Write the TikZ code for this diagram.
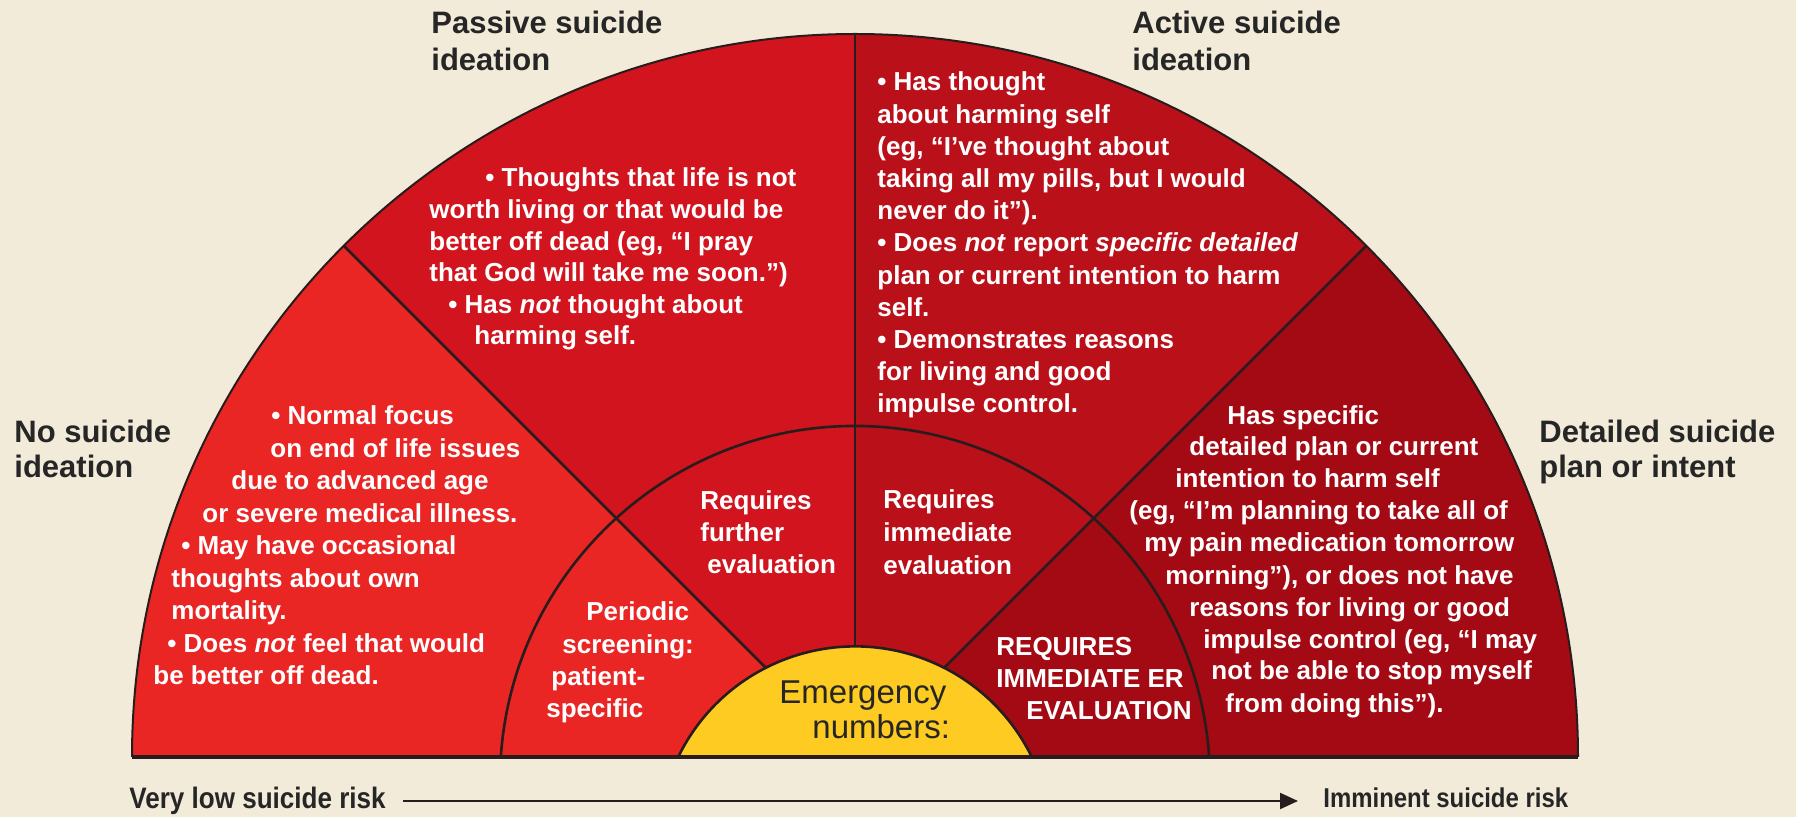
\documentclass[tikz,border=0pt]{standalone}
\usepackage{fontspec}
\setmainfont{Liberation Sans}
\newfontfamily\condfont{Liberation Sans}[FakeStretch=0.88]
\usetikzlibrary{arrows.meta}
\definecolor{bgc}{RGB}{242,235,218}
\definecolor{cA}{RGB}{234,38,37}
\definecolor{cB}{RGB}{209,20,30}
\definecolor{cC}{RGB}{186,16,26}
\definecolor{cD}{RGB}{164,10,20}
\definecolor{yel}{RGB}{253,203,33}
\definecolor{lnc}{RGB}{40,28,28}
\definecolor{headc}{RGB}{38,38,38}
\tikzset{
  ln/.style={draw=lnc, line width=1.3pt},
  lnthin/.style={draw=lnc, line width=1pt},
  baseln/.style={draw=lnc, line width=1.6pt},
  wtext/.style={text=white, font=\fontsize{13}{16}\selectfont\bfseries, anchor=base west, inner sep=0pt},
  htext/.style={text=headc, font=\fontsize{15.5}{18}\selectfont\bfseries, anchor=base west, inner sep=0pt},
  btext/.style={text=headc, anchor=base west, inner sep=0pt},
  etext/.style={text=headc, font=\fontsize{16.5}{19}\selectfont, anchor=base west, inner sep=0pt},
}
\begin{document}
\begin{tikzpicture}[x=0.5pt,y=0.5pt]
\fill[bgc] (0,0) rectangle (1796,-817);
\useasboundingbox (0,0) rectangle (1796,-817);
\coordinate (C) at (855,-757);
% sectors
\fill[cA] (C) -- ++(180:723) arc[start angle=180,end angle=135,radius=723] -- cycle;
\fill[cB] (C) -- ++(135:723) arc[start angle=135,end angle=90,radius=723] -- cycle;
\fill[cC] (C) -- ++(90:723) arc[start angle=90,end angle=45,radius=723] -- cycle;
\fill[cD] (C) -- ++(45:723) arc[start angle=45,end angle=0,radius=723] -- cycle;
% yellow core
\fill[yel] (678.2,-757) arc[start angle=154.06,end angle=25.94,radius=196.6] -- cycle;
% dividers
\coordinate (y135) at (765.8,-667.8);
\coordinate (o135) at (343.8,-245.8);
\coordinate (y90) at (855,-646.4);
\coordinate (o90) at (855,-34);
\coordinate (y45) at (944.2,-667.8);
\coordinate (o45) at (1366.2,-245.8);
\draw[ln] (y135) -- (o135);
\draw[ln] (y90) -- (o90);
\draw[ln] (y45) -- (o45);
% arcs
\draw[ln] (678.2,-757) arc[start angle=154.06,end angle=25.94,radius=196.6];
\draw[ln] (500.8,-757) arc[start angle=176.13,end angle=3.87,radius=355];
\draw[lnthin] (132,-757) arc[start angle=180,end angle=0,radius=723];
\coordinate (bl) at (132,-757);
\coordinate (br) at (1578,-757);
\draw[baseln] (bl) -- (br);
% headings
\node[htext] (h1) at (431,-34) {Passive suicide};
\node[htext] (h2) at (431,-71) {ideation};
\node[htext] (h3) at (1132,-34) {Active suicide};
\node[htext] (h4) at (1132,-71) {ideation};
\node[htext] (h5) at (14,-443) {No suicide};
\node[htext] (h6) at (14,-478) {ideation};
\node[htext] (h7) at (1539,-443) {Detailed suicide};
\node[htext] (h8) at (1539,-478) {plan or intent};
% passive
\foreach \x/\y/\t [count=\i] in {
  485/187/{• Thoughts that life is not},
  429/218.6/{worth living or that would be},
  429/250.2/{better off dead (eg, “I pray},
  429/281.8/{that God will take me soon.”)},
  448/313.4/{• Has \textit{not} thought about},
  474/345/{harming self.}}
  \node[wtext] (pa\i) at (\x,-\y) {\t};
% active
\foreach \x/\y/\t [count=\i] in {
  877/91/{• Has thought},
  877/123.2/{about harming self},
  877/155.4/{(eg, “I’ve thought about},
  877/187.6/{taking all my pills, but I would},
  877/219.8/{never do it”).},
  877/252/{• Does \textit{not} report \textit{specific detailed}},
  877/284.2/{plan or current intention to harm},
  877/316.4/{self.},
  877/348.6/{• Demonstrates reasons},
  877/380.8/{for living and good},
  877/413/{impulse control.}}
  \node[wtext] (ac\i) at (\x,-\y) {\t};
% no ideation
\foreach \x/\y/\t [count=\i] in {
  271/425/{• Normal focus},
  270/457.5/{on end of life issues},
  231/490/{due to advanced age},
  202/522.5/{or severe medical illness.},
  181/555/{• May have occasional},
  171/587.5/{thoughts about own},
  171/620/{mortality.},
  167/652.5/{• Does \textit{not} feel that would},
  153/685/{be better off dead.}}
  \node[wtext] (no\i) at (\x,-\y) {\t};
% detailed
\foreach \x/\y/\t [count=\i] in {
  1227/425/{Has specific},
  1189/456/{detailed plan or current},
  1175/488/{intention to harm self},
  1129/520/{(eg, “I’m planning to take all of},
  1144/552/{my pain medication tomorrow},
  1165/585/{morning”), or does not have},
  1189/617/{reasons for living or good},
  1203/649/{impulse control (eg, “I may},
  1211/680/{not be able to stop myself},
  1225/713/{from doing this”).}}
  \node[wtext] (de\i) at (\x,-\y) {\t};
% inner ring
\foreach \x/\y/\t [count=\i] in {
  586/621/{Periodic},
  562/654/{screening:},
  551/686/{patient-},
  546/718/{specific}}
  \node[wtext] (pe\i) at (\x,-\y) {\t};
\foreach \x/\y/\t [count=\i] in {
  700/510/{Requires},
  700/542/{further},
  707/574/{evaluation}}
  \node[wtext] (fu\i) at (\x,-\y) {\t};
\foreach \x/\y/\t [count=\i] in {
  883/509/{Requires},
  883/542/{immediate},
  883/575/{evaluation}}
  \node[wtext] (im\i) at (\x,-\y) {\t};
\foreach \x/\y/\t [count=\i] in {
  996/656/{REQUIRES},
  996/688/{IMMEDIATE ER},
  1026/720/{EVALUATION}}
  \node[wtext] (er\i) at (\x,-\y) {\t};
% emergency
\node[etext] (em1) at (779,-704) {Emergency};
\node[etext] (em2) at (812,-739) {numbers:};
% bottom scale
\node[btext, font=\condfont\fontsize{14.8}{17}\selectfont\bfseries] (lo) at (129,-809) {Very low suicide risk};
\node[btext, font=\condfont\fontsize{13.6}{16}\selectfont\bfseries] (hi) at (1323,-808) {Imminent suicide risk};
\coordinate (as) at (403,-801);
\coordinate (ae) at (1298,-801);
\draw[draw=lnc, line width=1.1pt, -{Triangle[length=9pt,width=8pt]}] (as) -- (ae);
\end{tikzpicture}
\end{document}
